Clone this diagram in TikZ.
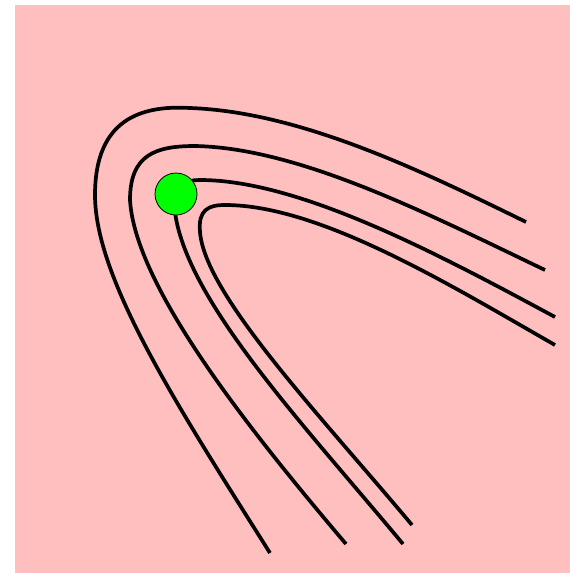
\documentclass[tikz,border=0pt]{standalone}
\definecolor{cpink}{HTML}{FFBFBF}
\definecolor{cgreen}{HTML}{00FF00}
\tikzset{
  lane/.style={draw=black, line width=3.7pt},
  dot/.style={circle, draw=black, line width=0.8pt, fill=cgreen, minimum size=42pt, inner sep=0pt},
}
\begin{document}
\begin{tikzpicture}[x=1pt, y=-1pt]
  \useasboundingbox (0,0) rectangle (570,573);
  \fill[cpink] (15,5) rectangle (570,573);
  % four bent lanes
  \draw[lane] (270,553) .. controls (180,410) and (95,280) .. (95,195)
    .. controls (95,120) and (140,105) .. (190,108)
    .. controls (300,112) and (420,170) .. (526,222);
  \draw[lane] (346,544) .. controls (245,425) and (135,285) .. (130,200)
    .. controls (130,155) and (155,146) .. (195,146)
    .. controls (300,148) and (430,215) .. (545,270);
  \draw[lane] (403,544) .. controls (300,420) and (176,290) .. (174,200)
    .. controls (176,185) and (185,180) .. (200,180)
    .. controls (300,180) and (440,255) .. (555,317);
  \draw[lane] (412,525) .. controls (320,415) and (205,295) .. (200,232)
    .. controls (198,210) and (208,205) .. (225,205)
    .. controls (320,205) and (450,285) .. (555,345);
  \node[dot] (ball) at (176,194) {};
\end{tikzpicture}
\end{document}
